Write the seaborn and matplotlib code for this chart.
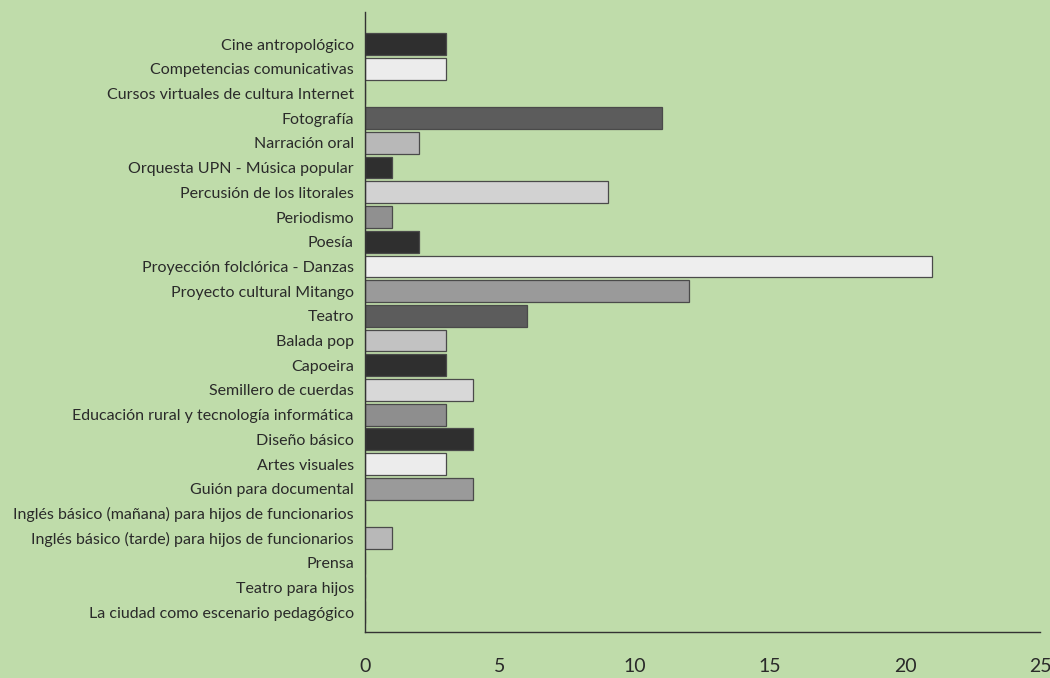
import matplotlib
matplotlib.use("Agg")
import matplotlib.pyplot as plt
import seaborn as sns
import pandas as pd

categorias = [
    "Cine antropológico",
    "Competencias comunicativas",
    "Cursos virtuales de cultura Internet",
    "Fotografía",
    "Narración oral",
    "Orquesta UPN - Música popular",
    "Percusión de los litorales",
    "Periodismo",
    "Poesía",
    "Proyección folclórica - Danzas",
    "Proyecto cultural Mitango",
    "Teatro",
    "Balada pop",
    "Capoeira",
    "Semillero de cuerdas",
    "Educación rural y tecnología informática",
    "Diseño básico",
    "Artes visuales",
    "Guión para documental",
    "Inglés básico (mañana) para hijos de funcionarios",
    "Inglés básico (tarde) para hijos de funcionarios",
    "Prensa",
    "Teatro para hijos",
    "La ciudad como escenario pedagógico",
]
valores = [3, 3, 0, 11, 2, 1, 9, 1, 2, 21, 12, 6, 3, 3, 4, 3, 4, 3, 4, 0, 1, 0, 0, 0]
colores = [
    "#2f2f2f", "#ececec", "#d0d0d0", "#5c5c5c", "#b8b8b8", "#2f2f2f",
    "#d2d2d2", "#909090", "#2f2f2f", "#eeeeee", "#9a9a9a", "#5c5c5c",
    "#c2c2c2", "#2f2f2f", "#d8d8d8", "#8e8e8e", "#2f2f2f", "#ececec",
    "#9a9a9a", "#b8b8b8", "#b8b8b8", "#b8b8b8", "#b8b8b8", "#b8b8b8",
]
xticks = [0, 5, 10, 15, 20, 25]

df = pd.DataFrame({"curso": categorias, "n": valores})

fondo = "#bfdcaa"
sns.set_style("white")
plt.rcParams['font.family'] = ['Lato', 'DejaVu Sans']

fig = plt.figure(figsize=(10.5, 6.78), dpi=100, facecolor=fondo)
ax = fig.add_axes([0.3476, 0.0678, 0.643, 0.9145], facecolor=fondo)

sns.barplot(data=df, x="n", y="curso", hue="curso", palette=colores,
            legend=False, width=0.88, edgecolor="#4a4a4a", linewidth=0.9,
            ax=ax)

ax.set_xlim(0, 25)
ax.set_ylim(23.8, -1.3)
ax.set_xticks(xticks)
ax.set_xticklabels([str(t) for t in xticks], fontsize=14, color="#2a2a2a")
ax.tick_params(axis='x', direction='in', length=12, width=0.9,
               color="#333333", pad=19)
ax.tick_params(axis='y', length=0, pad=8, labelsize=11.5, labelcolor="#2a2a2a")

sns.despine(ax=ax, top=True, right=True)
for s in ["left", "bottom"]:
    ax.spines[s].set_color("#333333")
    ax.spines[s].set_linewidth(1.0)

ax.set_xlabel("")
ax.set_ylabel("")

fig.savefig("out.png", dpi=100, facecolor=fondo)
